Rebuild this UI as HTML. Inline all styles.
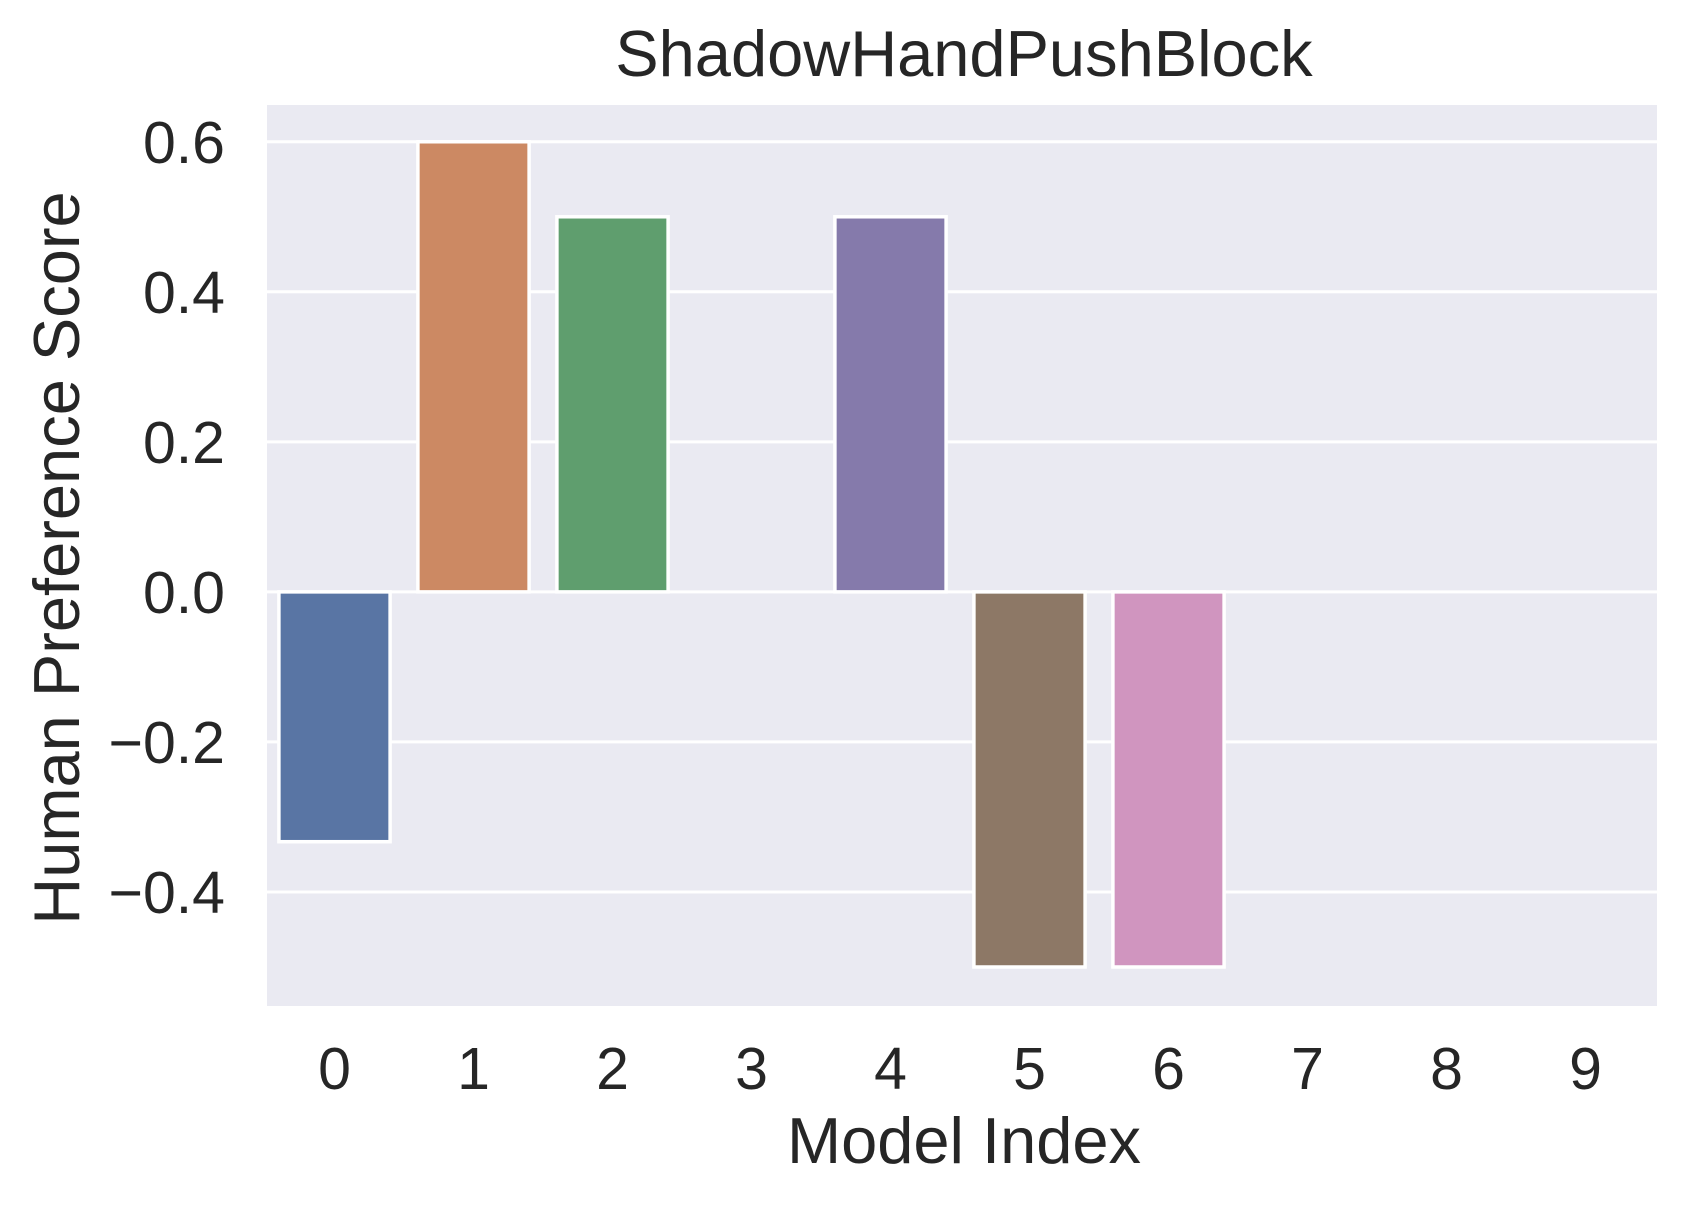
<!DOCTYPE html>
<html><head><meta charset="utf-8"><style>
html,body{margin:0;padding:0;background:#fff;}
svg text{font-family:"Liberation Sans",Arial,sans-serif;fill:#262626;}
</style></head><body>
<svg id="chart" width="1689" height="1209" viewBox="0 0 1689 1209" xmlns="http://www.w3.org/2000/svg">
<rect x="267" y="105" width="1390" height="901" fill="#eaeaf2"/>
<g id="grid"></g>
<g id="bars"></g>
<g id="yticks"></g>
<g id="xticks"></g>
<text x="964" y="76" font-size="65" text-anchor="middle">ShadowHandPushBlock</text>
<text x="964" y="1163" font-size="65" text-anchor="middle">Model Index</text>
<text transform="translate(79,558) rotate(-90)" font-size="65" text-anchor="middle">Human Preference Score</text>
</svg>
<script>
const categories = ["0","1","2","3","4","5","6","7","8","9"];
const scores = [-0.333, 0.6, 0.5, 0, 0.5, -0.5, -0.5, 0, 0, 0];
const barColors = ["#5975a4","#cc8963","#5f9e6e","#b55d60","#857aab","#8d7866","#d095bf","#8c8c8c","#c1b37f","#71aec0"];
const yTicks = [-0.4, -0.2, 0.0, 0.2, 0.4, 0.6];
const yTickLabels = ["\u22120.4","\u22120.2","0.0","0.2","0.4","0.6"];
const yMin = -0.552, yMax = 0.649;
const plotL = 267, plotR = 1657, plotT = 105, plotB = 1006;
const NS = "http://www.w3.org/2000/svg";
function y(v){ return plotB - (v - yMin) / (yMax - yMin) * (plotB - plotT); }
const band = (plotR - plotL) / categories.length;
function xc(i){ return plotL + band * (i + 0.5); }
const grid = document.getElementById('grid');
const yt = document.getElementById('yticks');
yTicks.forEach((t, i) => {
  const l = document.createElementNS(NS, 'line');
  
  
  l.setAttribute('x1', plotL); l.setAttribute('x2', plotR);
  l.setAttribute('y1', y(t)); l.setAttribute('y2', y(t));
  l.setAttribute('stroke', '#fff'); l.setAttribute('stroke-width', '3');
  grid.appendChild(l);
  const tx = document.createElementNS(NS, 'text');
  
  
  tx.setAttribute('x', 225); tx.setAttribute('y', y(t) + 21);
  tx.setAttribute('font-size', '59'); tx.setAttribute('text-anchor', 'end');
  tx.textContent = yTickLabels[i];
  yt.appendChild(tx);
});
const bars = document.getElementById('bars');
const xt = document.getElementById('xticks');
const bw = band * 0.8;
categories.forEach((c, i) => {
  const v = scores[i];
  const r = document.createElementNS(NS, 'rect');
  
  
  const y0 = y(0), y1 = y(v);
  r.setAttribute('x', xc(i) - bw / 2 - 2);
  r.setAttribute('width', bw);
  r.setAttribute('y', Math.min(y0, y1));
  r.setAttribute('height', Math.abs(y1 - y0));
  r.setAttribute('fill', barColors[i]);
  r.setAttribute('stroke', '#fff'); r.setAttribute('stroke-width', v === 0 ? '0' : '3.5');
  bars.appendChild(r);
  const tx = document.createElementNS(NS, 'text');
  
  
  tx.setAttribute('x', xc(i) - 2); tx.setAttribute('y', 1089);
  tx.setAttribute('font-size', '59'); tx.setAttribute('text-anchor', 'middle');
  tx.textContent = c;
  xt.appendChild(tx);
});
</script>
</body></html>
